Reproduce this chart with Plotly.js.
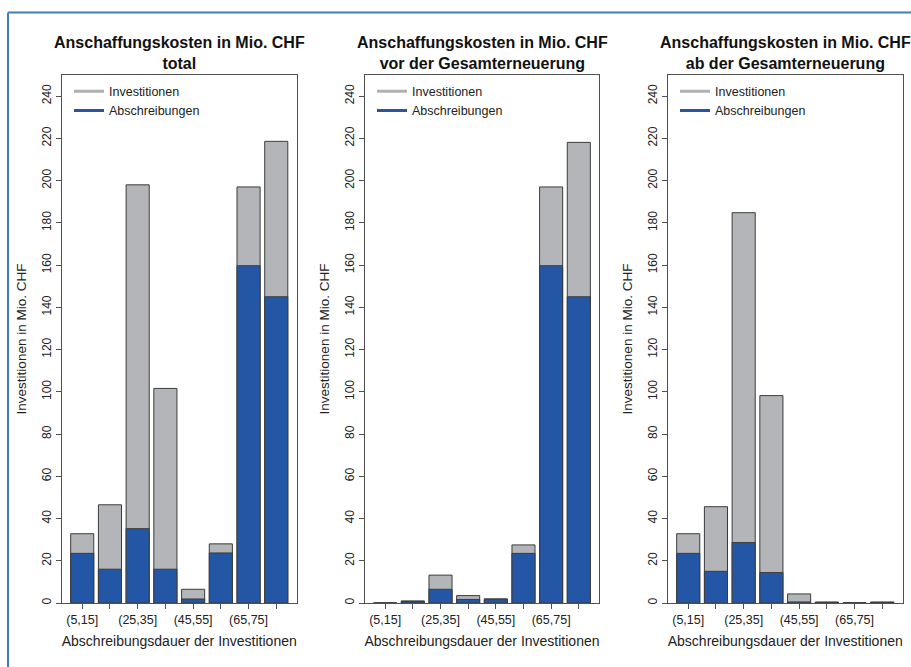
<!DOCTYPE html>
<html>
<head>
<meta charset="utf-8">
<script src="https://cdn.plot.ly/plotly-3.0.1.min.js"></script>
<style>html,body{margin:0;padding:0;background:#fff;}#chart{width:911px;height:667px;}</style>
</head>
<body>
<div id="chart"></div>
<script>
// ---- data ----
const categories = ['(5,15]','(15,25]','(25,35]','(35,45]','(45,55]','(55,65]','(65,75]','(75,85]'];
const tickLabels = ['(5,15]','','(25,35]','','(45,55]','','(65,75]',''];
const panelTitles = [
  'Anschaffungskosten in Mio. CHF<br>total',
  'Anschaffungskosten in Mio. CHF<br>vor der Gesamterneuerung',
  'Anschaffungskosten in Mio. CHF<br>ab der Gesamterneuerung'
];
const seriesNames = ['Investitionen', 'Abschreibungen'];
const invTotal = [32.8, 46.5, 198, 101.6, 6.5, 28, 197, 218.6];
const abTotal  = [23.5, 16, 35.2, 16, 1.9, 23.7, 159.7, 145];
const invVor   = [0, 1, 13.2, 3.5, 2, 27.5, 197, 218.1];
const abVor    = [0, 0.7, 6.5, 1.7, 1.6, 23.5, 159.7, 145];
const invAb    = [32.8, 45.6, 184.8, 98.2, 4.3, 0.5, 0.1, 0.5];
const abAb     = [23.5, 15, 28.6, 14.4, 0.5, 0.2, 0, 0.2];
const xTitle = 'Abschreibungsdauer der Investitionen';
const yTitle = 'Investitionen in Mio. CHF';

// ---- styling ----
const W = 911, H = 667;
const grayC = '#b3b5b8', blueC = '#2456a6', edgeC = '#3c3c3c', axisC = '#505050';
const FONT = 'Liberation Sans, Arial, sans-serif';
const panels = [[invTotal, abTotal], [invVor, abVor], [invAb, abAb]];
const plotL = [62, 365, 668], plotR = [296.5, 599, 902.5];
const plotTop = 75, plotBot = 603;

const data = [];
const layout = {
  width: W, height: H,
  margin: {l: 0, r: 0, t: 0, b: 0},
  paper_bgcolor: '#fff', plot_bgcolor: '#fff',
  barmode: 'overlay', bargap: 1 - 1/1.2,
  font: {family: FONT, color: '#111'},
  showlegend: true,
  annotations: [], shapes: []
};

panels.forEach((p, i) => {
  const sx = i === 0 ? '' : String(i + 1);
  const xa = 'x' + sx, ya = 'y' + sx;
  const lg = 'legend' + sx;
  data.push({type: 'bar', x: categories, y: p[0], xaxis: xa, yaxis: ya, showlegend: false,
    marker: {color: grayC, line: {color: edgeC, width: 1}}, hoverinfo: 'x+y'});
  data.push({type: 'bar', x: categories, y: p[1], xaxis: xa, yaxis: ya, showlegend: false,
    marker: {color: blueC, line: {color: edgeC, width: 1}}, hoverinfo: 'x+y'});
  // legend entries (line keys)
  [grayC, blueC].forEach((c, k) => {
    data.push({type: 'scatter', mode: 'lines', x: [null], y: [null], xaxis: xa, yaxis: ya,
      name: seriesNames[k], legend: lg, line: {color: k === 0 ? '#b0b0b0' : '#2a53a0', width: 3}});
  });
  layout['xaxis' + sx] = {
    domain: [plotL[i] / W, plotR[i] / W], anchor: ya,
    type: 'category', categoryorder: 'array', categoryarray: categories,
    range: [-0.73, 7.73], fixedrange: true,
    tickmode: 'array', tickvals: categories, ticktext: tickLabels,
    ticks: 'outside', ticklen: 5, tickwidth: 1, tickcolor: axisC,
    tickfont: {size: 12.5, family: FONT, color: '#222'},
    showline: true, mirror: true, linecolor: axisC, linewidth: 1,
    showgrid: false, zeroline: false,
    title: {text: xTitle, font: {size: 14, family: FONT, color: '#222'}, standoff: 10}
  };
  layout['yaxis' + sx] = {
    domain: [(H - plotBot) / H, (H - plotTop) / H], anchor: xa,
    range: [0, 250], tick0: 0, dtick: 20, fixedrange: true,
    ticks: 'outside', ticklen: 5, tickwidth: 1, tickcolor: axisC,
    tickangle: -90, tickfont: {size: 12, family: FONT, color: '#222'},
    showline: true, mirror: true, linecolor: axisC, linewidth: 1,
    showgrid: false, zeroline: false,
    title: {text: yTitle, font: {size: 13.5, family: FONT, color: '#222'}, standoff: 10}
  };
  layout[lg] = {
    x: (plotL[i] + 7) / W, y: (H - plotTop - 1.5) / H, xanchor: 'left', yanchor: 'top',
    bgcolor: 'rgba(0,0,0,0)', borderwidth: 0,
    font: {size: 12.5, family: FONT, color: '#222'}, tracegroupgap: 0
  };
  layout.annotations.push({
    xref: 'paper', yref: 'paper', x: (plotL[i] + plotR[i]) / 2 / W, y: (H - 53) / H,
    xanchor: 'center', yanchor: 'middle', showarrow: false,
    text: '<b>' + panelTitles[i].replace('<br>', '</b><br><b>') + '</b>',
    font: {size: 16, family: FONT, color: '#111'}
  });
});

// page frame (blue lines at top and left)
layout.shapes.push({type: 'line', xref: 'paper', yref: 'paper', x0: 8 / W, x1: 1, y0: 1 - 12.5 / H, y1: 1 - 12.5 / H,
  line: {color: '#3f7dbf', width: 2}});
layout.shapes.push({type: 'line', xref: 'paper', yref: 'paper', x0: 8 / W, x1: 8 / W, y0: 0, y1: 1 - 12.5 / H,
  line: {color: '#3f7dbf', width: 2}});

Plotly.newPlot('chart', data, layout, {displayModeBar: false, staticPlot: true});
</script>
</body>
</html>
